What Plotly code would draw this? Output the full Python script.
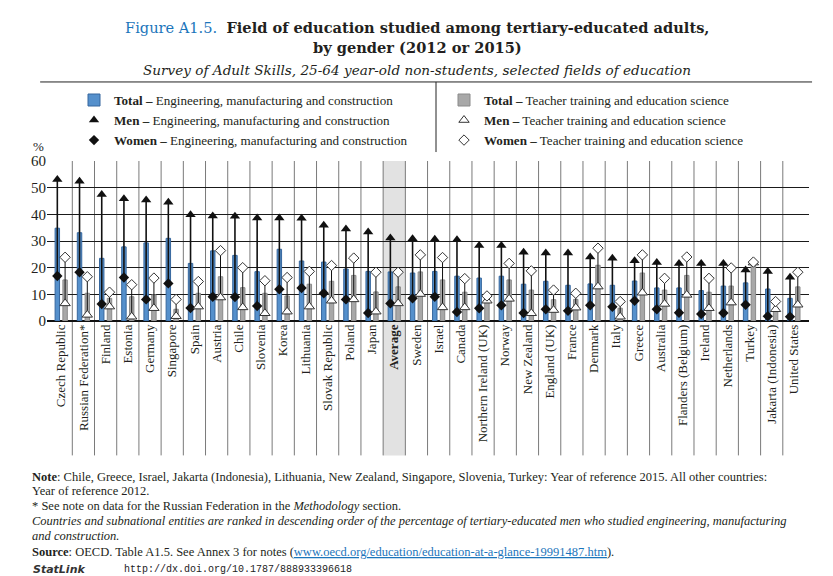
import plotly.graph_objects as go

countries = ["Czech Republic", "Russian Federation*", "Finland", "Estonia", "Germany", "Singapore",
             "Spain", "Austria", "Chile", "Slovenia", "Korea", "Lithuania", "Slovak Republic", "Poland",
             "Japan", "Average", "Sweden", "Israel", "Canada", "Northern Ireland (UK)", "Norway",
             "New Zealand", "England (UK)", "France", "Denmark", "Italy", "Greece", "Australia",
             "Flanders (Belgium)", "Ireland", "Netherlands", "Turkey", "Jakarta (Indonesia)", "United States"]

eng_total = [34.8, 33.1, 23.5, 27.8, 29.3, 31.0, 21.6, 26.3, 24.6, 18.5, 26.9, 22.5, 22.1, 19.5, 18.6, 18.4,
             18.0, 18.6, 16.8, 16.1, 16.8, 13.8, 14.9, 13.4, 13.9, 13.4, 15.0, 12.4, 12.4, 11.4, 13.1, 14.3, 12.0, 8.5]
eng_men = [53.1, 52.4, 47.4, 45.8, 45.4, 44.5, 39.8, 39.4, 39.3, 38.6, 38.6, 38.5, 35.9, 34.5, 33.4, 31.1,
           30.8, 30.7, 30.5, 28.3, 28.3, 25.8, 25.5, 25.5, 24.0, 23.5, 22.6, 21.9, 21.6, 21.6, 21.6, 19.1, 18.6, 16.4]
eng_women = [16.9, 18.3, 6.4, 16.3, 8.1, 14.1, 4.9, 9.1, 9.0, 5.6, 11.9, 12.4, 10.4, 8.1, 3.0, 6.6,
             8.5, 9.1, 3.4, 4.8, 5.9, 3.0, 4.4, 3.8, 5.9, 5.3, 7.6, 4.4, 3.1, 2.6, 3.0, 6.1, 1.8, 1.6]

tea_total = [15.4, 10.4, 8.5, 9.1, 9.8, 4.4, 10.4, 16.6, 12.5, 10.4, 9.4, 13.8, 14.9, 17.1, 10.9, 12.8,
             18.4, 15.4, 10.8, 10.0, 15.4, 11.6, 8.0, 8.1, 20.9, 4.8, 18.0, 11.6, 17.1, 10.8, 13.1, 22.1, 4.1, 12.8]
tea_men = [6.6, 2.3, 5.4, 1.6, 4.8, 1.8, 5.4, 8.8, 5.1, 2.9, 3.5, 5.4, 7.6, 8.1, 3.5, 6.6,
           10.1, 5.1, 5.1, 7.6, 8.3, 2.9, 4.1, 5.0, 12.9, 1.6, 10.6, 6.4, 9.8, 4.8, 6.9, 21.9, 4.4, 6.1]
tea_women = [23.9, 16.6, 10.8, 13.6, 16.1, 8.1, 14.8, 26.4, 20.0, 15.1, 16.3, 18.6, 20.8, 23.6, 18.3, 18.3,
             24.8, 23.8, 15.9, 9.4, 21.6, 18.8, 11.6, 10.4, 27.3, 7.3, 24.8, 16.0, 24.0, 16.0, 19.9, 22.1, 7.3, 18.3]

y_ticks = [0, 10, 20, 30, 40, 50, 60]

FONT = "Liberation Serif"
TFONT = "DejaVu Serif"
OFF = 0.175
BW = 0.2

idx = list(range(len(countries)))
x_eng = [i - OFF for i in idx]
x_tea = [i + OFF for i in idx]
ticktext = ["<b>%s</b>" % c if c == "Average" else c for c in countries]


def connector(xs, a, b):
    xx, yy = [], []
    for x, p, q in zip(xs, a, b):
        xx += [x, x, None]
        yy += [p, q, None]
    return xx, yy


fig = go.Figure()

fig.add_trace(go.Bar(x=x_eng, y=eng_total, width=BW, name="<b>Total –</b> Engineering, manufacturing and construction",
                     marker=dict(color="#5590cc", line=dict(color="#36679e", width=1)), legend="legend"))
fig.add_trace(go.Bar(x=x_tea, y=tea_total, width=BW, name="<b>Total –</b> Teacher training and education science",
                     marker=dict(color="#a8a8a8", line=dict(color="#8a8a8a", width=1)), legend="legend2"))

cx, cy = connector(x_eng, eng_men, eng_women)
fig.add_trace(go.Scatter(x=cx, y=cy, mode="lines", line=dict(color="#111", width=1.6),
                         showlegend=False, hoverinfo="skip"))
cx, cy = connector(x_tea, tea_men, tea_women)
fig.add_trace(go.Scatter(x=cx, y=cy, mode="lines", line=dict(color="#111", width=1),
                         showlegend=False, hoverinfo="skip"))

fig.add_trace(go.Scatter(x=x_eng, y=eng_men, mode="markers", name="<b>Men –</b> Engineering, manufacturing and construction",
                         marker=dict(symbol="triangle-up", size=9, color="#111"), legend="legend"))
fig.add_trace(go.Scatter(x=x_eng, y=eng_women, mode="markers", name="<b>Women –</b> Engineering, manufacturing and construction",
                         marker=dict(symbol="diamond", size=8, color="#111"), legend="legend"))
fig.add_trace(go.Scatter(x=x_tea, y=tea_men, mode="markers", name="<b>Men –</b> Teacher training and education science",
                         marker=dict(symbol="triangle-up", size=9, color="white", line=dict(color="#333", width=1)),
                         legend="legend2"))
fig.add_trace(go.Scatter(x=x_tea, y=tea_women, mode="markers", name="<b>Women –</b> Teacher training and education science",
                         marker=dict(symbol="diamond", size=8, color="white", line=dict(color="#333", width=1)),
                         legend="legend2"))

shapes = []
avg_i = countries.index("Average")
shapes.append(dict(type="rect", xref="x", yref="paper", x0=avg_i - 0.5, x1=avg_i + 0.5, y0=-0.84, y1=1,
                   fillcolor="#e2e2e2", line=dict(width=0), layer="below"))
for k in range(len(countries) - 1):
    shapes.append(dict(type="line", xref="x", yref="paper", x0=k + 0.5, x1=k + 0.5, y0=-0.84, y1=1,
                       line=dict(color="#7a7a7a", width=1), layer="below"))
# legend frame
shapes.append(dict(type="line", xref="paper", yref="paper", x0=-0.009, x1=1.004, y0=1.494, y1=1.494,
                   line=dict(color="#222", width=1)))
shapes.append(dict(type="line", xref="paper", yref="paper", x0=0.5105, x1=0.5105, y0=1.494, y1=1.056,
                   line=dict(color="#222", width=1)))


def py(ypx):
    return (321 - ypx) / 160.0


def px(xpx):
    return (xpx - 47) / 762.0


annotations = [
    dict(text='<span style="color:#1b75bb">Figure A1.5.</span>  <b>Field of education studied among tertiary-educated adults,</b>',
         x=px(417), y=py(27), font=dict(size=14.6, color="#231f20", family=TFONT)),
    dict(text="<b>by gender (2012 or 2015)</b>", x=px(417), y=py(47), font=dict(size=14.6, color="#231f20", family=TFONT)),
    dict(text="<i>Survey of Adult Skills, 25-64 year-old non-students, selected fields of education</i>",
         x=px(417), y=py(70), font=dict(size=13.6, color="#231f20", family=TFONT)),
    dict(text="%", x=px(38), y=py(146), font=dict(size=13, color="#222")),
]
notes = [
    (477, "<b>Note</b>: Chile, Greece, Israel, Jakarta (Indonesia), Lithuania, New Zealand, Singapore, Slovenia, Turkey: Year of reference 2015. All other countries:"),
    (491, "Year of reference 2012."),
    (506, "* See note on data for the Russian Federation in the <i>Methodology</i> section."),
    (521, "<i>Countries and subnational entities are ranked in descending order of the percentage of tertiary-educated men who studied engineering, manufacturing</i>"),
    (536, "<i>and construction.</i>"),
    (552, '<b>Source</b>: OECD. Table A1.5. See Annex 3 for notes (<span style="color:#1b75bb"><u>www.oecd.org/education/education-at-a-glance-19991487.htm</u></span>).'),
]
for ypx, t in notes:
    annotations.append(dict(text=t, x=px(30), y=py(ypx), xanchor="left", font=dict(size=12.5, color="#231f20")))
annotations.append(dict(text="<b><i>StatLink</i></b>", x=px(31), y=py(569), xanchor="left",
                        font=dict(size=11, color="#333", family="DejaVu Sans")))
annotations.append(dict(text="http://dx.doi.org/10.1787/888933396618", x=px(122), y=py(569), xanchor="left",
                        font=dict(size=10, color="#222", family="Liberation Mono")))
for a in annotations:
    a.setdefault("xref", "paper")
    a.setdefault("yref", "paper")
    a.setdefault("showarrow", False)
    a.setdefault("yanchor", "middle")
    a.setdefault("xanchor", "center")

fig.update_layout(
    width=833, height=576,
    margin=dict(l=47, r=24, t=161, b=255),
    paper_bgcolor="white", plot_bgcolor="rgba(0,0,0,0)",
    font=dict(family=FONT, color="#231f20"),
    barmode="overlay",
    shapes=shapes,
    annotations=annotations,
    legend=dict(x=px(74), y=py(85), xanchor="left", yanchor="top", orientation="v",
                font=dict(size=13.1, family=FONT), bgcolor="rgba(0,0,0,0)", traceorder="normal",
                tracegroupgap=0, itemclick=False),
    legend2=dict(x=px(444), y=py(85), xanchor="left", yanchor="top", orientation="v",
                 font=dict(size=13.1, family=FONT), bgcolor="rgba(0,0,0,0)", traceorder="normal",
                 tracegroupgap=0, itemclick=False),
    xaxis=dict(range=[-0.64, len(countries) - 0.32], tickmode="array", tickvals=idx, ticktext=ticktext,
               tickangle=-90, showgrid=False, zeroline=False, showline=False, ticks="",
               tickfont=dict(size=13, family=FONT, color="#231f20")),
    yaxis=dict(range=[0, 60], tickvals=y_ticks, showgrid=True, gridcolor="#1a1a1a", gridwidth=1,
               zeroline=True, zerolinecolor="#111", zerolinewidth=1.5, showline=False, ticks="",
               tickfont=dict(size=15, family=FONT, color="#231f20")),
)

fig.write_html("out.html", config={"displayModeBar": False},
               post_script="document.body.style.margin='0';document.body.style.padding='0';")
